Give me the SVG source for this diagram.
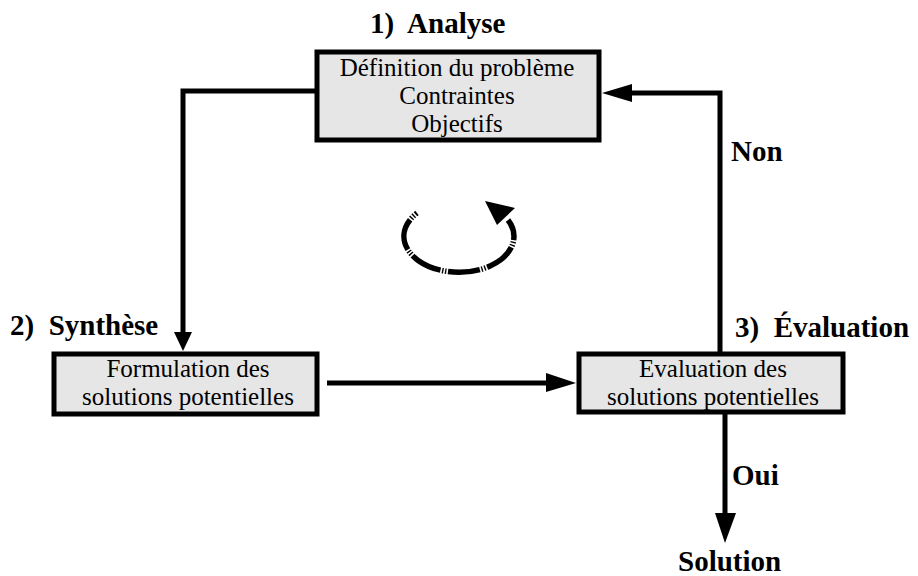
<svg xmlns="http://www.w3.org/2000/svg" width="918" height="576" viewBox="0 0 918 576">
<style>
.box{fill:#e6e6e6;stroke:#000;stroke-width:5}
.t{font-family:"Liberation Serif","Times New Roman",serif;font-size:25px;fill:#000;text-anchor:middle}
.h{font-family:"Liberation Serif","Times New Roman",serif;font-size:29px;font-weight:bold;fill:#000}
.ln{fill:none;stroke:#000;stroke-width:5}
.ah{fill:#000}
</style>
<rect width="918" height="576" fill="#fff"/>
<g id="connectors">
<polyline class="ln" points="315,91 183,91 183,334"/>
<polygon class="ah" points="174,332 192,332 183,351"/>
<line class="ln" x1="327" y1="383" x2="550" y2="383"/>
<polygon class="ah" points="546,373 546,392 576,383"/>
<polyline class="ln" points="720,352 720,93 630,93"/>
<polygon class="ah" points="632,84 632,102 602,93"/>
<line class="ln" x1="725" y1="414" x2="725" y2="516"/>
<polygon class="ah" points="715,513 736,513 725,543"/>
<path d="M417,213 A55,36 0 1 0 508,220" fill="none" stroke="#000" stroke-width="5.5" stroke-dasharray="32 1.6 1.4 1.6 1.4 1.6" stroke-dashoffset="30"/>
<polygon class="ah" points="515,208 497,225 485,201"/>
</g>
<g id="analyse">
<text class="h" x="370" y="33" xml:space="preserve">1)  Analyse</text>
<rect class="box" x="317" y="52" width="282" height="88"/>
<text class="t" x="457" y="76">Définition du problème</text>
<text class="t" x="457" y="104">Contraintes</text>
<text class="t" x="457" y="132">Objectifs</text>
</g>
<g id="synthese">
<text class="h" x="10" y="335" xml:space="preserve">2)  Synthèse</text>
<rect class="box" x="54" y="354" width="263" height="60"/>
<text class="t" x="188" y="377">Formulation des</text>
<text class="t" x="188" y="405">solutions potentielles</text>
</g>
<g id="evaluation">
<text class="h" x="735" y="337" xml:space="preserve">3)  Évaluation</text>
<rect class="box" x="579" y="354" width="264" height="58"/>
<text class="t" x="713" y="377">Evaluation des</text>
<text class="t" x="713" y="405">solutions potentielles</text>
</g>
<g id="labels">
<text class="h" x="731" y="161">Non</text>
<text class="h" x="732" y="485">Oui</text>
<text class="h" x="678" y="571">Solution</text>
</g>
</svg>
